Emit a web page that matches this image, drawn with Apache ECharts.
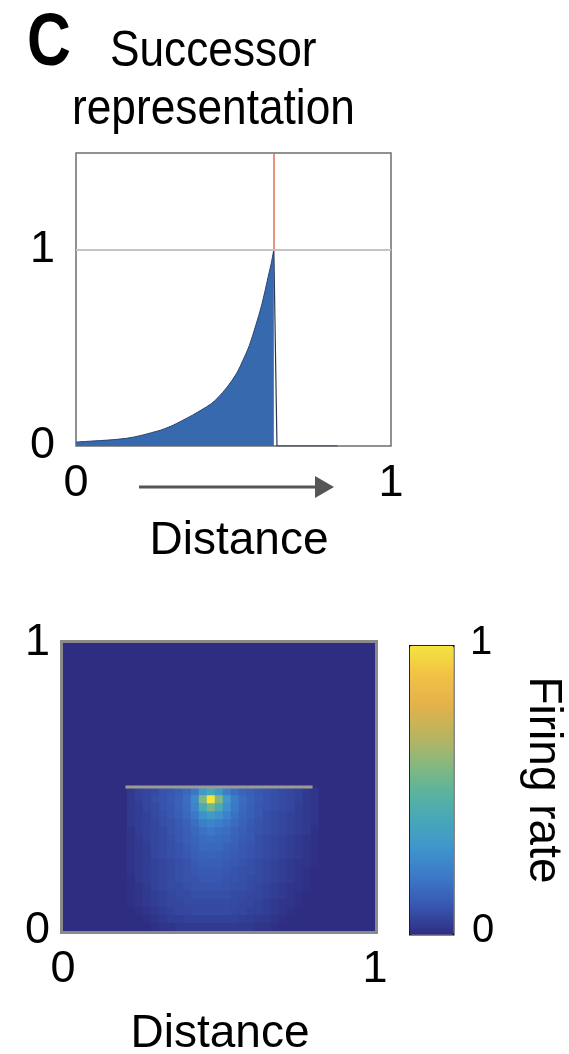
<!DOCTYPE html>
<html>
<head>
<meta charset="utf-8">
<style>
  html, body { margin: 0; padding: 0; background: #fff; }
  #chart { width: 569px; height: 1054px; }
</style>
<script src="https://cdn.jsdelivr.net/npm/echarts@6/dist/echarts.min.js"></script>
</head>
<body>
<div id="chart"></div>
<script>
var FONT = '"Liberation Sans", Arial, Helvetica, sans-serif';

// top panel: successor representation along the track
var srDistance = [0, 0.05, 0.10, 0.16, 0.21, 0.24, 0.27, 0.30, 0.32, 0.35, 0.37, 0.40, 0.43, 0.45,
  0.48, 0.51, 0.53, 0.55, 0.57, 0.59, 0.61, 0.62, 0.628];
var srValue = [0.02, 0.025, 0.03, 0.039, 0.055, 0.068, 0.081, 0.10, 0.115, 0.14, 0.157, 0.185, 0.216, 0.245,
  0.30, 0.37, 0.436, 0.51, 0.61, 0.72, 0.86, 0.93, 1.0];
// drop after the current position, then flat along the floor
var dropDistance = [0.628, 0.638, 0.83];
var dropValue = [1.0, 0, 0];
var currentPos = 0.628;
var refLevel = 1;
var tickValues = [0, 1];

// bottom panel: 39 x 36 firing map, rows listed from the bottom up (percent)
// rows above the track (18..35) read as 0
var heatCols = 39;
var heatRows = 36;
var fieldRows = [
  [0,0,0,0,0,0,0,0, 0,0,0,1,2,2,3,3,3,3, 3, 3,3,3,3,3,2,2,1,0,0,0,0,0, 0,0,0,0,0,0,0],
  [0,0,0,0,0,0,0,0, 0,0,1,2,3,4,4,5,5,5, 5, 5,5,5,4,4,3,3,2,1,0,0,0,0, 0,0,0,0,0,0,0],
  [0,0,0,0,0,0,0,0, 0,1,2,3,4,5,6,6,7,7, 7, 7,7,6,6,5,5,4,3,2,1,0,0,0, 0,0,0,0,0,0,0],
  [0,0,0,0,0,0,0,0, 1,2,3,4,5,6,6,7,7,7, 7, 7,7,7,6,6,5,4,3,2,2,1,0,0, 0,0,0,0,0,0,0],
  [0,0,0,0,0,0,0,0, 1,2,3,4,5,6,7,7,8,8, 8, 8,8,7,7,6,6,5,4,3,2,1,0,0, 0,0,0,0,0,0,0],
  [0,0,0,0,0,0,0,0, 1,2,3,5,6,7,7,8,9,9, 9, 9,9,8,8,7,6,5,4,3,2,2,1,0, 0,0,0,0,0,0,0],
  [0,0,0,0,0,0,0,0, 1,3,4,5,6,7,8,9,9,10, 10, 10,9,9,8,7,7,6,5,4,3,2,1,0, 0,0,0,0,0,0,0],
  [0,0,0,0,0,0,0,0, 2,3,4,5,6,7,8,9,10,11, 11, 11,10,9,8,8,7,6,5,4,3,2,1,0, 0,0,0,0,0,0,0],
  [0,0,0,0,0,0,0,0, 2,3,4,5,6,7,8,9,11,12, 12, 12,11,10,9,8,7,6,5,4,3,2,2,1, 0,0,0,0,0,0,0],
  [0,0,0,0,0,0,0,0, 2,3,4,6,7,8,9,10,12,13, 14, 13,12,11,10,9,8,7,6,5,4,3,2,1, 0,0,0,0,0,0,0],
  [0,0,0,0,0,0,0,0, 2,3,4,6,7,8,9,11,13,15, 15, 15,13,12,10,9,8,7,6,5,4,3,2,1, 0,0,0,0,0,0,0],
  [0,0,0,0,0,0,0,0, 2,3,5,6,7,8,10,12,14,16, 17, 16,15,13,11,10,8,7,6,5,4,3,2,1, 0,0,0,0,0,0,0],
  [0,0,0,0,0,0,0,0, 2,4,5,6,7,9,10,12,15,18, 20, 18,17,14,12,10,9,8,7,6,5,4,3,1, 0,0,0,0,0,0,0],
  [0,0,0,0,0,0,0,0, 3,4,5,6,8,9,11,13,17,22, 24, 22,19,16,13,11,9,8,7,6,5,4,3,2, 0,0,0,0,0,0,0],
  [0,0,0,0,0,0,0,0, 3,4,5,7,8,10,12,15,20,29, 33, 29,23,18,14,12,10,8,7,6,5,4,3,2, 0,0,0,0,0,0,0],
  [0,0,0,0,0,0,0,0, 3,4,6,7,9,10,13,16,24,42, 55, 42,28,20,15,12,10,9,8,7,6,4,3,2, 0,0,0,0,0,0,0],
  [0,0,0,0,0,0,0,0, 3,5,6,8,9,11,13,17,26,58, 100, 58,32,21,16,13,11,9,8,7,6,5,3,2, 0,0,0,0,0,0,0],
  [0,0,0,0,0,0,0,0, 3,5,6,7,9,10,12,15,20,32, 40, 32,22,17,14,12,10,9,8,7,6,5,3,2, 0,0,0,0,0,0,0]
];
var trackStart = 0.2;
var trackEnd = 0.8;
var trackY = 0.5;
var colorStops = ['#2e2d81', '#3857b0', '#3c78c8', '#3e95cc', '#47a8b8', '#5db49c',
  '#8db87a', '#bfb35c', '#e5b24a', '#f2c244', '#f3e43f'];

var chartDom = document.getElementById('chart');
var chart = echarts.init(chartDom);

var srData = [];
for (var i = 0; i < srDistance.length; i++) {
  srData.push([srDistance[i], srValue[i]]);
}
var dropData = [];
for (var i = 0; i < dropDistance.length; i++) {
  dropData.push([dropDistance[i], dropValue[i]]);
}

var colNames = [];
var rowNames = [];
for (var c = 0; c < heatCols; c++) colNames.push(String(c));
for (var r = 0; r < heatRows; r++) rowNames.push(String(r));

var heatData = [];
for (var r = 0; r < heatRows; r++) {
  for (var c = 0; c < heatCols; c++) {
    var v = r < fieldRows.length ? fieldRows[r][c] : 0;
    heatData.push([c, r, v / 100]);
  }
}

function tickLabel(v) {
  return tickValues.indexOf(v) >= 0 ? String(v) : '';
}

var labelStyle = { fontSize: 45, color: '#000', fontFamily: FONT };

function textEl(txt, x, y, size, extra) {
  var el = {
    type: 'text',
    x: x,
    y: y,
    silent: true,
    style: {
      text: txt,
      font: size + 'px ' + FONT,
      fill: '#000',
      textAlign: 'center',
      textVerticalAlign: 'middle'
    }
  };
  for (var k in extra) el[k] = extra[k];
  return el;
}

var option = {
  animation: false,
  backgroundColor: '#fff',
  grid: [
    { left: 76, top: 153, width: 315, height: 293, show: true, borderColor: '#6e6e6e', borderWidth: 1.5, backgroundColor: '#fff' },
    { left: 63, top: 643, width: 312, height: 288 },
    { left: 63, top: 643, width: 312, height: 288 }
  ],
  xAxis: [
    {
      gridIndex: 0, type: 'value', min: 0, max: 1, interval: 1,
      axisLine: { show: false }, axisTick: { show: false }, splitLine: { show: false },
      axisLabel: Object.assign({ margin: 15, formatter: tickLabel }, labelStyle)
    },
    { gridIndex: 1, type: 'category', data: colNames, show: false },
    {
      gridIndex: 2, type: 'value', min: 0, max: 1, interval: 1,
      axisLine: { show: false }, axisTick: { show: false }, splitLine: { show: false },
      axisLabel: Object.assign({ margin: 16, formatter: tickLabel }, labelStyle)
    }
  ],
  yAxis: [
    {
      gridIndex: 0, type: 'value', min: 0, max: 1.49, interval: 1,
      axisLine: { show: false }, axisTick: { show: false }, splitLine: { show: false },
      axisLabel: Object.assign({ margin: 21, formatter: tickLabel }, labelStyle)
    },
    { gridIndex: 1, type: 'category', data: rowNames, show: false },
    {
      gridIndex: 2, type: 'value', min: 0, max: 1, interval: 1,
      axisLine: { show: false }, axisTick: { show: false }, splitLine: { show: false },
      axisLabel: Object.assign({ margin: 13, formatter: tickLabel }, labelStyle)
    }
  ],
  visualMap: {
    type: 'continuous',
    seriesIndex: 2,
    dimension: 2,
    min: 0,
    max: 1,
    calculable: false,
    hoverLink: false,
    text: null,
    left: 409,
    top: 645,
    itemWidth: 44,
    itemHeight: 289,
    padding: 0,
    borderColor: '#111',
    borderWidth: 1.5,
    inRange: { color: colorStops }
  },
  series: [
    {
      type: 'line',
      xAxisIndex: 0,
      yAxisIndex: 0,
      data: srData,
      symbol: 'none',
      smooth: 0.35,
      lineStyle: { color: '#2b4670', width: 1 },
      areaStyle: { color: '#3669ad', opacity: 1 },
      markLine: {
        silent: true,
        symbol: 'none',
        label: { show: false },
        data: [
          { yAxis: refLevel, lineStyle: { color: '#c4c4c4', width: 2, type: 'solid' } },
          [
            { coord: [currentPos, refLevel], lineStyle: { color: '#e4704f', width: 1.5, type: 'solid' } },
            { coord: [currentPos, 1.49] }
          ]
        ]
      }
    },
    {
      type: 'line',
      xAxisIndex: 0,
      yAxisIndex: 0,
      data: dropData,
      symbol: 'none',
      lineStyle: { color: '#2b3550', width: 1.2 }
    },
    {
      type: 'heatmap',
      xAxisIndex: 1,
      yAxisIndex: 1,
      data: heatData,
      progressive: 0,
      emphasis: { disabled: true },
      itemStyle: { borderWidth: 0 }
    },
    {
      type: 'line',
      xAxisIndex: 2,
      yAxisIndex: 2,
      data: [[trackStart, trackY], [trackEnd, trackY]],
      symbol: 'none',
      z: 5,
      lineStyle: { color: '#9d9b90', width: 3 }
    }
  ],
  graphic: [
    {
      type: 'text', x: 27, y: 45, scaleX: 0.82, silent: true,
      style: { text: 'C', font: 'bold 74px ' + FONT, fill: '#000', textAlign: 'left', textVerticalAlign: 'middle' }
    },
    {
      type: 'text', x: 110, y: 52, scaleX: 0.885, silent: true,
      style: { text: 'Successor', font: '50px ' + FONT, fill: '#000', textAlign: 'left', textVerticalAlign: 'middle' }
    },
    {
      type: 'text', x: 72, y: 110, scaleX: 0.885, silent: true,
      style: { text: 'representation', font: '50px ' + FONT, fill: '#000', textAlign: 'left', textVerticalAlign: 'middle' }
    },
    {
      type: 'line', silent: true,
      shape: { x1: 139, y1: 487, x2: 318, y2: 487 },
      style: { stroke: '#555', lineWidth: 3 }
    },
    {
      type: 'polygon', silent: true,
      shape: { points: [[315, 476], [334, 487], [315, 498]] },
      style: { fill: '#555' }
    },
    textEl('Distance', 239, 541, 46),
    {
      type: 'rect', silent: true, z: 100,
      shape: { x: 61.5, y: 641.5, width: 315, height: 291 },
      style: { fill: 'none', stroke: '#8a8a8a', lineWidth: 3 }
    },
    textEl('Distance', 220, 1034, 46),
    textEl('1', 481, 643, 40),
    textEl('0', 483, 931, 40),
    textEl('Firing rate', 543, 780, 46, { rotation: -Math.PI / 2 })
  ]
};

chart.setOption(option);
</script>
</body>
</html>
